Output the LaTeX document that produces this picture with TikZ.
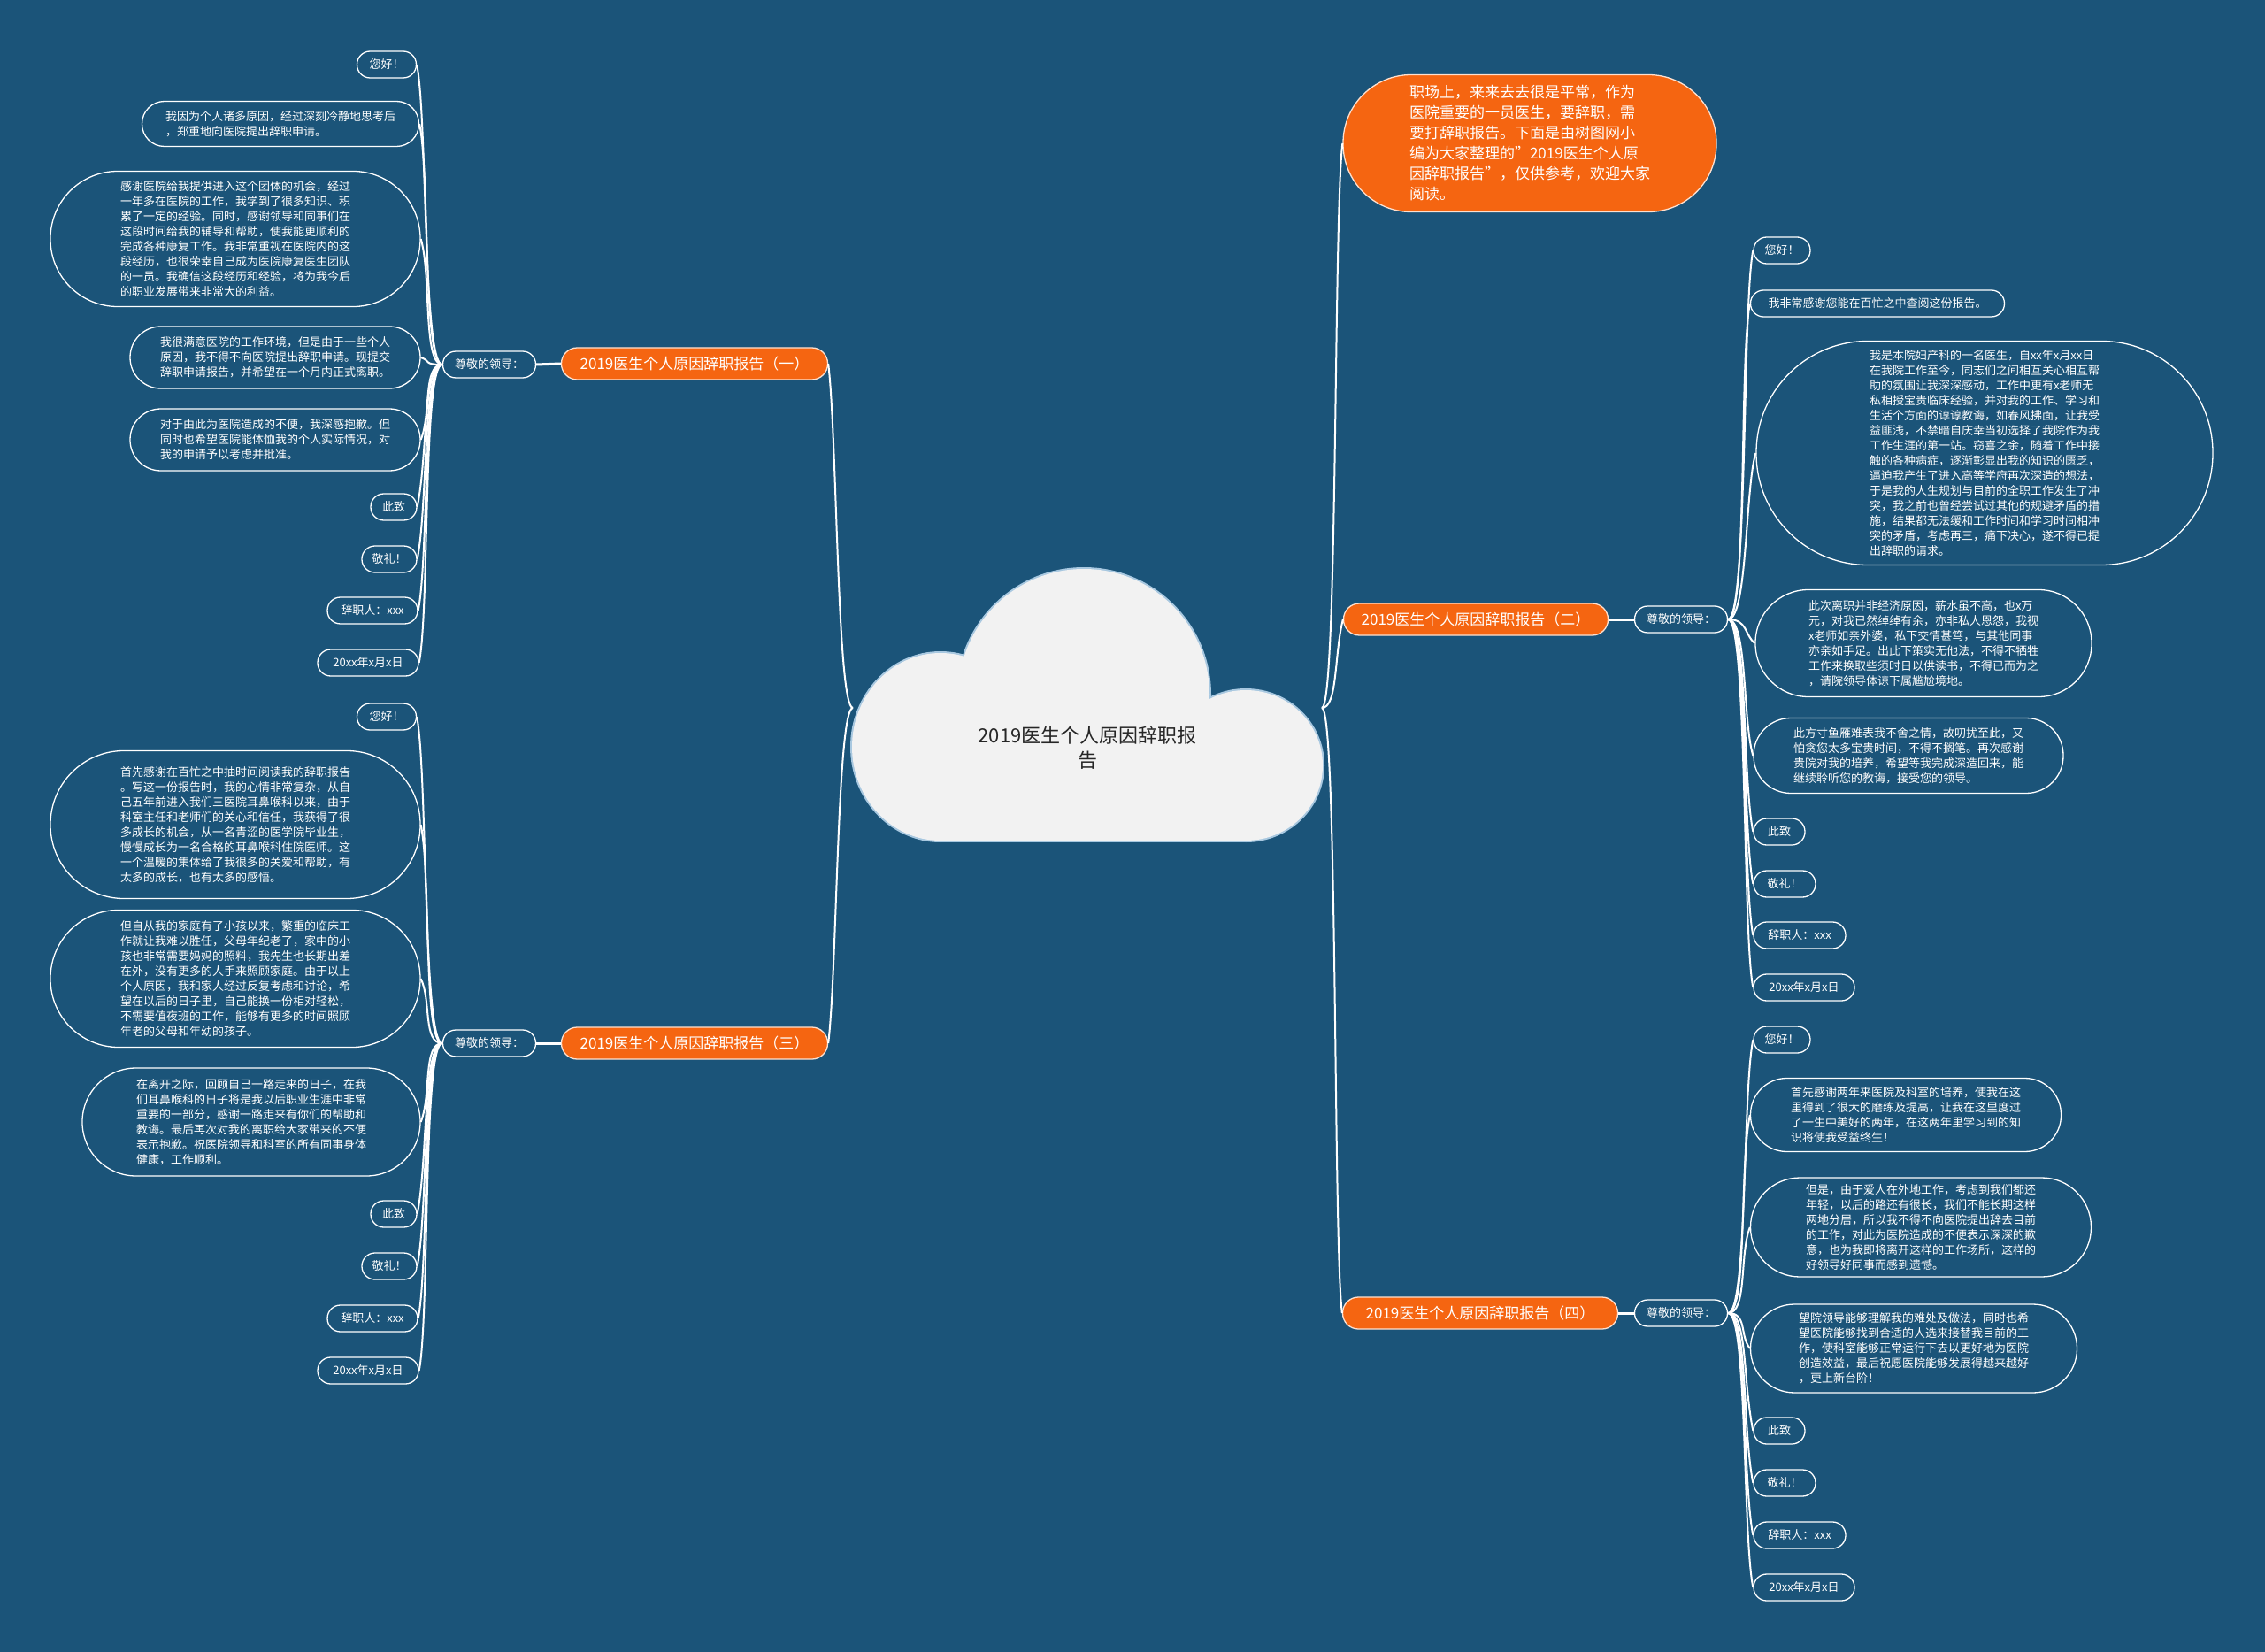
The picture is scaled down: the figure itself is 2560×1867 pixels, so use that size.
\documentclass[tikz,border=0pt]{standalone}
\usepackage{fontspec}
\setmainfont{Noto Sans CJK SC}
\definecolor{bgc}{HTML}{1B5479}
\definecolor{org}{HTML}{F56511}
\definecolor{cloudc}{HTML}{F2F2F2}
\definecolor{cloudb}{HTML}{A8C8E0}
\newcommand{\LeafNode}[7]{\node[leaf,minimum width=#4,minimum height=#5,rounded corners=#6] (#1) at (#2,#3) {#7};}
\newcommand{\ConnR}[3]{\draw[conn] (#1.east) .. controls +(22,0) and +(-12,#3) .. (#2.west);}
\newcommand{\ConnL}[3]{\draw[conn] (#1.west) .. controls +(-22,0) and +(12,#3) .. (#2.east);}
\newcommand{\SQ}{\char34\relax}
\begin{document}
\begin{tikzpicture}[x=1pt,y=-1pt,
 conn/.style={draw=white, line width=2pt},
 leaf/.style={draw=white, line width=1.3pt, fill=bgc, text=white, font=\fontsize{13}{17}\selectfont, align=left, inner sep=0pt},
 subn/.style={draw=white, line width=1.3pt, fill=bgc, text=white, font=\fontsize{13}{17}\selectfont, inner sep=0pt, minimum width=105, minimum height=30, rounded corners=14.8},
 branch/.style={draw=white!80!org, line width=1.3pt, fill=org, text=white, font=\fontsize{17}{23}\selectfont, inner sep=0pt, minimum height=36, rounded corners=17.8},
 link/.style={draw=white, line width=3pt},
]
\fill[bgc] (0,0) rectangle (2560,1867);
\path[use as bounding box] (0,0) rectangle (2560,1867);

% cloud
\path[draw=cloudb, line width=4pt] (1063,844) ellipse [x radius=100, y radius=106];
\path[draw=cloudb, line width=4pt] (1225,785) circle [radius=142];
\path[draw=cloudb, line width=4pt] (1408,865) ellipse [x radius=87, y radius=85];
\path[draw=cloudb, line width=4pt] (1063,880) rectangle (1408,950);
\fill[cloudc] (1063,844) ellipse [x radius=100, y radius=106];
\fill[cloudc] (1225,785) circle [radius=142];
\fill[cloudc] (1408,865) ellipse [x radius=87, y radius=85];
\fill[cloudc] (1063,880) rectangle (1408,950);
\node[text=black!85, font=\fontsize{22}{28}\selectfont, align=center] (root) at (1229,845) {2019医生个人原因辞职报\\告};
\coordinate (cL) at (964,800);
\coordinate (cR) at (1494,800);

% intro
\node[branch, minimum width=422, minimum height=155, rounded corners=77, align=left] (intro) at (1729,162) {职场上，来来去去很是平常，作为\\医院重要的一员医生，要辞职，需\\要打辞职报告。下面是由树图网小\\编为大家整理的\SQ 2019医生个人原\\因辞职报告\SQ ，仅供参考，欢迎大家\\阅读。};

% branches
\node[branch, minimum width=301] (b1) at (785,411) {2019医生个人原因辞职报告（一）};
\node[branch, minimum width=301] (b3) at (785,1179) {2019医生个人原因辞职报告（三）};
\node[branch, minimum width=299] (b2) at (1668,700) {2019医生个人原因辞职报告（二）};
\node[branch, minimum width=311] (b4) at (1673,1484) {2019医生个人原因辞职报告（四）};

\node[subn] (s1) at (553,412) {尊敬的领导：};
\node[subn] (s3) at (553,1179) {尊敬的领导：};
\node[subn] (s2) at (1900,700) {尊敬的领导：};
\node[subn] (s4) at (1900,1484) {尊敬的领导：};

% left 1
\LeafNode{la1}{437}{73}{67}{30}{14.8}{您好！}
\LeafNode{la2}{317}{140}{313}{51}{25.3}{我因为个人诸多原因，经过深刻冷静地思考后\\，郑重地向医院提出辞职申请。}
\LeafNode{la3}{266}{270}{418}{153}{76}{感谢医院给我提供进入这个团体的机会，经过\\一年多在医院的工作，我学到了很多知识、积\\累了一定的经验。同时，感谢领导和同事们在\\这段时间给我的辅导和帮助，使我能更顺利的\\完成各种康复工作。我非常重视在医院内的这\\段经历，也很荣幸自己成为医院康复医生团队\\的一员。我确信这段经历和经验，将为我今后\\的职业发展带来非常大的利益。}
\LeafNode{la4}{311}{404}{328}{70}{34.8}{我很满意医院的工作环境，但是由于一些个人\\原因，我不得不向医院提出辞职申请。现提交\\辞职申请报告，并希望在一个月内正式离职。}
\LeafNode{la5}{311}{497}{328}{70}{34.8}{对于由此为医院造成的不便，我深感抱歉。但\\同时也希望医院能体恤我的个人实际情况，对\\我的申请予以考虑并批准。}
\LeafNode{la6}{445}{573}{52}{30}{14.8}{此致}
\LeafNode{la7}{440}{632}{62}{30}{14.8}{敬礼！}
\LeafNode{la8}{421}{690}{102}{30}{14.8}{辞职人：xxx}
\LeafNode{la9}{416}{749}{114}{30}{14.8}{20xx年x月x日}

% left 3
\LeafNode{lc1}{437}{810}{67}{30}{14.8}{您好！}
\LeafNode{lc2}{266}{932}{418}{167}{83}{首先感谢在百忙之中抽时间阅读我的辞职报告\\。写这一份报告时，我的心情非常复杂，从自\\己五年前进入我们三医院耳鼻喉科以来，由于\\科室主任和老师们的关心和信任，我获得了很\\多成长的机会，从一名青涩的医学院毕业生，\\慢慢成长为一名合格的耳鼻喉科住院医师。这\\一个温暖的集体给了我很多的关爱和帮助，有\\太多的成长，也有太多的感悟。}
\LeafNode{lc3}{266}{1106}{418}{155}{77}{但自从我的家庭有了小孩以来，繁重的临床工\\作就让我难以胜任，父母年纪老了，家中的小\\孩也非常需要妈妈的照料，我先生也长期出差\\在外，没有更多的人手来照顾家庭。由于以上\\个人原因，我和家人经过反复考虑和讨论，希\\望在以后的日子里，自己能换一份相对轻松，\\不需要值夜班的工作，能够有更多的时间照顾\\年老的父母和年幼的孩子。}
\LeafNode{lc4}{284}{1268}{382}{122}{60.8}{在离开之际，回顾自己一路走来的日子，在我\\们耳鼻喉科的日子将是我以后职业生涯中非常\\重要的一部分，感谢一路走来有你们的帮助和\\教诲。最后再次对我的离职给大家带来的不便\\表示抱歉。祝医院领导和科室的所有同事身体\\健康，工作顺利。}
\LeafNode{lc5}{445}{1372}{52}{30}{14.8}{此致}
\LeafNode{lc6}{440}{1431}{62}{30}{14.8}{敬礼！}
\LeafNode{lc7}{421}{1490}{102}{30}{14.8}{辞职人：xxx}
\LeafNode{lc8}{416}{1549}{114}{30}{14.8}{20xx年x月x日}

% right 2
\LeafNode{rb1}{2014}{283}{64}{30}{14.8}{您好！}
\LeafNode{rb2}{2122}{343}{287}{30}{14.8}{我非常感谢您能在百忙之中查阅这份报告。}
\LeafNode{rb3}{2243}{512}{516}{253}{126}{我是本院妇产科的一名医生，自xx年x月xx日\\在我院工作至今，同志们之间相互关心相互帮\\助的氛围让我深深感动，工作中更有x老师无\\私相授宝贵临床经验，并对我的工作、学习和\\生活个方面的谆谆教诲，如春风拂面，让我受\\益匪浅，不禁暗自庆幸当初选择了我院作为我\\工作生涯的第一站。窃喜之余，随着工作中接\\触的各种病症，逐渐彰显出我的知识的匮乏，\\逼迫我产生了进入高等学府再次深造的想法，\\于是我的人生规划与目前的全职工作发生了冲\\突，我之前也曾经尝试过其他的规避矛盾的措\\施，结果都无法缓和工作时间和学习时间相冲\\突的矛盾，考虑再三，痛下决心，遂不得已提\\出辞职的请求。}
\LeafNode{rb4}{2174}{727}{380}{121}{60}{此次离职并非经济原因，薪水虽不高，也x万\\元，对我已然绰绰有余，亦非私人恩怨，我视\\x老师如亲外婆，私下交情甚笃，与其他同事\\亦亲如手足。出此下策实无他法，不得不牺牲\\工作来换取些须时日以供读书，不得已而为之\\，请院领导体谅下属尴尬境地。}
\LeafNode{rb5}{2157}{854}{350}{85}{42}{此方寸鱼雁难表我不舍之情，故叨扰至此，又\\怕贪您太多宝贵时间，不得不搁笔。再次感谢\\贵院对我的培养，希望等我完成深造回来，能\\继续聆听您的教诲，接受您的领导。}
\LeafNode{rb6}{2011}{940}{58}{30}{14.8}{此致}
\LeafNode{rb7}{2017}{999}{70}{30}{14.8}{敬礼！}
\LeafNode{rb8}{2034}{1057}{104}{30}{14.8}{辞职人：xxx}
\LeafNode{rb9}{2039}{1116}{114}{30}{14.8}{20xx年x月x日}

% right 4
\LeafNode{rd1}{2014}{1175}{64}{30}{14.8}{您好！}
\LeafNode{rd2}{2154}{1260}{351}{83}{41}{首先感谢两年来医院及科室的培养，使我在这\\里得到了很大的磨练及提高，让我在这里度过\\了一生中美好的两年，在这两年里学习到的知\\识将使我受益终生！}
\LeafNode{rd3}{2171}{1387}{385}{112}{55.8}{但是，由于爱人在外地工作，考虑到我们都还\\年轻，以后的路还有很长，我们不能长期这样\\两地分居，所以我不得不向医院提出辞去目前\\的工作，对此为医院造成的不便表示深深的歉\\意，也为我即将离开这样的工作场所，这样的\\好领导好同事而感到遗憾。}
\LeafNode{rd4}{2163}{1524}{369}{100}{49.8}{望院领导能够理解我的难处及做法，同时也希\\望医院能够找到合适的人选来接替我目前的工\\作，使科室能够正常运行下去以更好地为医院\\创造效益，最后祝愿医院能够发展得越来越好\\，更上新台阶！}
\LeafNode{rd5}{2011}{1617}{58}{30}{14.8}{此致}
\LeafNode{rd6}{2017}{1676}{70}{30}{14.8}{敬礼！}
\LeafNode{rd7}{2034}{1735}{104}{30}{14.8}{辞职人：xxx}
\LeafNode{rd8}{2039}{1794}{114}{30}{14.8}{20xx年x月x日}

% cloud connectors
\draw[conn] (cL) .. controls +(-18,0) and +(10,80) .. (b1.east);
\draw[conn] (cL) .. controls +(-18,0) and +(10,-80) .. (b3.east);
\draw[conn] (cR) .. controls +(18,0) and +(-10,80) .. (intro.west);
\draw[conn] (cR) .. controls +(18,0) and +(-10,40) .. (b2.west);
\draw[conn] (cR) .. controls +(18,0) and +(-10,-80) .. (b4.west);

% branch to sub
\draw[link] (b1.west) -- (s1.east);
\draw[link] (b3.west) -- (s3.east);
\draw[link] (b2.east) -- (s2.west);
\draw[link] (b4.east) -- (s4.west);

% leaves left 1
\ConnL{s1}{la1}{60}
\ConnL{s1}{la2}{60}
\ConnL{s1}{la3}{40}
\ConnL{s1}{la4}{4}
\ConnL{s1}{la5}{-30}
\ConnL{s1}{la6}{-60}
\ConnL{s1}{la7}{-60}
\ConnL{s1}{la8}{-60}
\ConnL{s1}{la9}{-60}
% leaves left 3
\ConnL{s3}{lc1}{60}
\ConnL{s3}{lc2}{60}
\ConnL{s3}{lc3}{25}
\ConnL{s3}{lc4}{-30}
\ConnL{s3}{lc5}{-60}
\ConnL{s3}{lc6}{-60}
\ConnL{s3}{lc7}{-60}
\ConnL{s3}{lc8}{-60}
% leaves right 2
\ConnR{s2}{rb1}{60}
\ConnR{s2}{rb2}{60}
\ConnR{s2}{rb3}{40}
\ConnR{s2}{rb4}{-10}
\ConnR{s2}{rb5}{-40}
\ConnR{s2}{rb6}{-60}
\ConnR{s2}{rb7}{-60}
\ConnR{s2}{rb8}{-60}
\ConnR{s2}{rb9}{-60}
% leaves right 4
\ConnR{s4}{rd1}{60}
\ConnR{s4}{rd2}{60}
\ConnR{s4}{rd3}{30}
\ConnR{s4}{rd4}{-15}
\ConnR{s4}{rd5}{-60}
\ConnR{s4}{rd6}{-60}
\ConnR{s4}{rd7}{-60}
\ConnR{s4}{rd8}{-60}
\end{tikzpicture}
\end{document}
